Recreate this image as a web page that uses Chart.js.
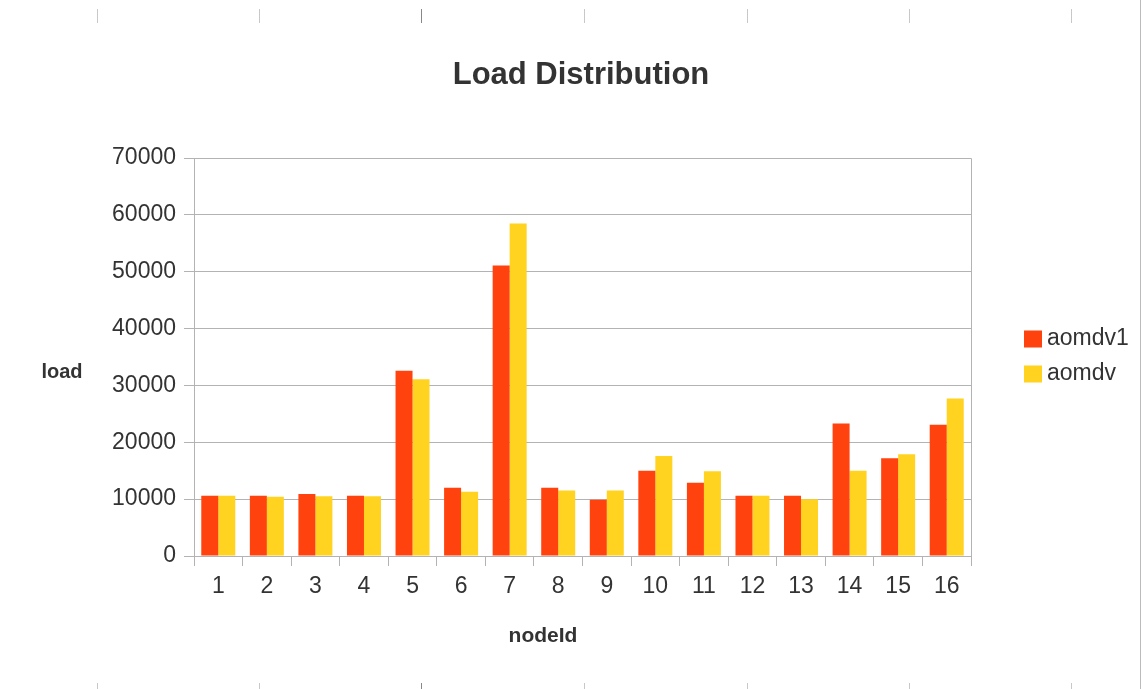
<!DOCTYPE html>
<html>
<head>
<meta charset="utf-8">
<title>Load Distribution</title>
<script src="https://cdn.jsdelivr.net/npm/chart.js@4/dist/chart.umd.min.js"></script>
<style>
    body { margin: 0; background: #fff; }
    #wrap { position: relative; width: 1141px; height: 689px; overflow: hidden; }
    .mark { position: absolute; width: 1px; background: #c8c8c8; }
</style>
</head>
<body>
<div id="wrap">
    <canvas id="load-chart" width="1141" height="689"></canvas>
</div>
<script>
// chart data
const nodeIds = ['1', '2', '3', '4', '5', '6', '7', '8', '9', '10', '11', '12', '13', '14', '15', '16'];
const aomdv1 = [10600, 10600, 10900, 10600, 32600, 12000, 51100, 12000, 9900, 15000, 12900, 10600, 10600, 23300, 17200, 23100];
const aomdv = [10600, 10400, 10500, 10500, 31100, 11300, 58500, 11500, 11500, 17600, 14900, 10600, 10000, 15000, 17900, 27700];
const yTicks = [0, 10000, 20000, 30000, 40000, 50000, 60000, 70000];

const FONT = '"Liberation Sans", Arial, sans-serif';
const TEXT = '#333333';
const GRID = '#b3b3b3';

// ruler marks along top and bottom edges
const markXs = [97, 259, 421, 584, 747, 909, 1071];
const wrap = document.getElementById('wrap');
markXs.forEach(x => {
    const top = document.createElement('div');
    top.className = 'mark';
    top.style.cssText = `left:${x}px;top:9px;height:14px;` + (x === 421 ? 'background:#888;' : '');
    wrap.appendChild(top);
    const bottom = document.createElement('div');
    bottom.className = 'mark';
    bottom.style.cssText = `left:${x}px;top:683px;height:6px;` + (x === 421 ? 'background:#888;' : '');
    wrap.appendChild(bottom);
});
const edge = document.createElement('div');
edge.className = 'mark';
edge.style.cssText = 'left:1140px;top:0;height:689px;background:#bbb;';
wrap.appendChild(edge);

// title, axis titles, plot frame and legend drawn on the canvas
const decorations = {
    id: 'decorations',
    afterDraw(chart) {
        const ctx = chart.ctx;
        const area = chart.chartArea;
        ctx.save();

        ctx.strokeStyle = GRID;
        ctx.lineWidth = 1;
        ctx.beginPath();
        ctx.moveTo(area.left, area.top + 0.5);
        ctx.lineTo(area.right + 0.5, area.top + 0.5);
        ctx.lineTo(area.right + 0.5, area.bottom);
        ctx.stroke();

        ctx.fillStyle = TEXT;
        ctx.textAlign = 'center';
        ctx.textBaseline = 'middle';
        ctx.font = `bold 31px ${FONT}`;
        ctx.fillText('Load Distribution', 581, 75);

        ctx.font = `bold 20px ${FONT}`;
        ctx.fillText('load', 62, 372);
        ctx.font = `bold 21px ${FONT}`;
        ctx.fillText('nodeId', 543, 636);

        ctx.textAlign = 'left';
        ctx.font = `23px ${FONT}`;
        chart.data.datasets.forEach((ds, i) => {
            const y = 339 + i * 35;
            ctx.fillStyle = ds.backgroundColor;
            ctx.fillRect(1024, y - 8.5, 18, 17);
            ctx.fillStyle = TEXT;
            ctx.fillText(ds.label, 1047, y);
        });
        ctx.restore();
    }
};

new Chart(document.getElementById('load-chart').getContext('2d'), {
    type: 'bar',
    data: {
        labels: nodeIds,
        datasets: [
            { label: 'aomdv1', data: aomdv1, backgroundColor: '#ff420e' },
            { label: 'aomdv', data: aomdv, backgroundColor: '#ffd320' }
        ]
    },
    options: {
        responsive: false,
        animation: false,
        layout: { padding: { left: 0, top: 158, right: 170, bottom: 83 } },
        datasets: { bar: { categoryPercentage: 0.7, barPercentage: 1.0 } },
        plugins: {
            legend: { display: false },
            title: { display: false },
            tooltip: { enabled: false }
        },
        scales: {
            x: {
                afterFit: scale => { scale.height = 50; },
                grid: { drawOnChartArea: false, drawTicks: true, tickLength: 10, color: GRID },
                border: { color: GRID },
                ticks: { color: TEXT, font: { family: FONT, size: 23 }, padding: 7, maxRotation: 0 }
            },
            y: {
                min: 0,
                max: 70000,
                afterFit: scale => { scale.width = 194; },
                afterBuildTicks: scale => { scale.ticks = yTicks.map(v => ({ value: v })); },
                grid: { color: GRID, tickLength: 10 },
                border: { color: GRID },
                ticks: {
                    color: TEXT,
                    font: { family: FONT, size: 23 },
                    padding: 8,
                    callback: value => String(value)
                }
            }
        }
    },
    plugins: [decorations]
});
</script>
</body>
</html>
